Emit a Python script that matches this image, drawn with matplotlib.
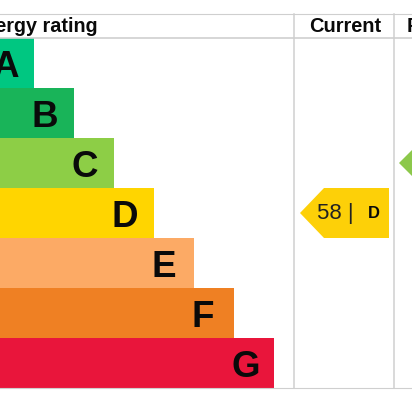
import matplotlib
matplotlib.use("Agg")
import matplotlib.pyplot as plt
from matplotlib.patches import Polygon

plt.rcParams["font.family"] = ["Liberation Sans", "DejaVu Sans"]

ratings = ["A", "B", "C", "D", "E", "F", "G"]
bar_ends = [34, 74, 114, 154, 194, 234, 274]
bar_colors = ["#00c781", "#19b459", "#8dce46", "#ffd500", "#fcaa65", "#ef8023", "#e9153b"]
headers = ["Energy rating", "Current", "Potential"]
current_score = 58
current_rating = "D"
potential_rating = "C"

fig = plt.figure(figsize=(4.12, 4.12), dpi=100)
ax = fig.add_axes([0, 0, 1, 1])
ax.set_xlim(0, 412)
ax.set_ylim(412, 0)
ax.axis("off")

# bars, the letters all sit the same distance back from the bar end
for i in range(len(ratings)):
    y = 63 + i * 50
    ax.barh(y, bar_ends[i], height=50, left=0, color=bar_colors[i], linewidth=0)
    ax.text(bar_ends[i] - 42, y + 14, ratings[i], ha="left", va="baseline",
            fontsize=26.5, fontweight="bold", color="#0a0a0a")

# table lines
line_color = "#cfcfcf"
ax.plot([0, 412], [13.5, 13.5], color=line_color, lw=0.8)
ax.plot([0, 412], [38, 38], color=line_color, lw=1.2)
ax.plot([0, 412], [388, 388], color=line_color, lw=0.8)
ax.plot([294, 294], [13.5, 388], color=line_color, lw=1.1)
ax.plot([394, 394], [13.5, 388], color=line_color, lw=1.1)

# headers
ax.text(98, 26.5, headers[0], ha="right", va="center", fontsize=14.2, fontweight="bold", color="#0a0a0a")
ax.text(345, 26.5, headers[1], ha="center", va="center", fontsize=14.4, fontweight="bold", color="#0a0a0a")
ax.text(407, 26.5, headers[2], ha="left", va="center", fontsize=14.2, fontweight="bold", color="#0a0a0a")

# current arrow
cy = 63 + ratings.index(current_rating) * 50
ax.add_patch(Polygon([(300, cy), (324, cy - 25), (389, cy - 25), (389, cy + 25), (324, cy + 25)],
                     closed=True, facecolor="#fdd008", edgecolor="none"))
ax.text(317, cy, f"{current_score} |", ha="left", va="center", fontsize=16, color="#222222")
ax.text(373.5, cy + 0.5, current_rating, ha="center", va="center", fontsize=12, fontweight="bold", color="#0a0a0a")

# potential arrow, cut off by the image edge
py = 63 + ratings.index(potential_rating) * 50
ax.add_patch(Polygon([(399, py), (424, py - 25), (460, py - 25), (460, py + 25), (424, py + 25)],
                     closed=True, facecolor="#8cc84b", edgecolor="none"))

fig.savefig("out.png", dpi=100)
